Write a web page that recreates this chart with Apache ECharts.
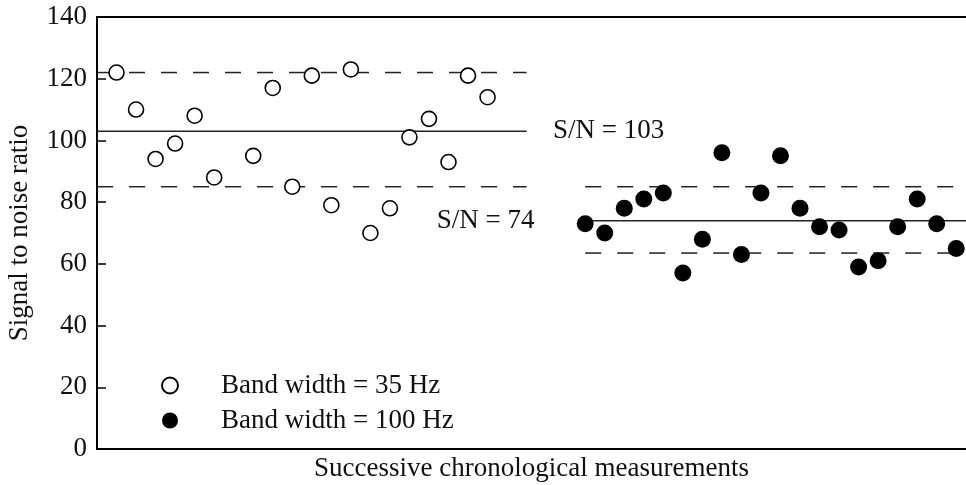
<!DOCTYPE html>
<html>
<head>
<meta charset="utf-8">
<script src="https://cdn.jsdelivr.net/npm/echarts@6/dist/echarts.min.js"></script>
<style>
  html, body { margin: 0; padding: 0; background: #fff; }
  #chart { width: 966px; height: 485px; }
</style>
</head>
<body>
<div id="chart"></div>
<script>
// Measurement order (index along the x axis)
const narrowIdx = [0, 1, 2, 3, 4, 5, 7, 8, 9, 10, 11, 12, 13, 14, 15, 16, 17, 18, 19];
const narrowSN  = [122, 110, 94, 99, 108, 88, 95, 117, 85, 121, 79, 123, 70, 78, 101, 107, 93, 121, 114];
const wideIdx   = [24, 25, 26, 27, 28, 29, 30, 31, 32, 33, 34, 35, 36, 37, 38, 39, 40, 41, 42, 43];
const wideSN    = [73, 70, 78, 81, 83, 57, 68, 96, 63, 83, 95, 78, 72, 71, 59, 61, 72, 81, 73, 65];

// Mean and limit levels for each band width
const narrowMean = 103, narrowUpper = 122, narrowLower = 85;
const wideMean = 74, wideUpper = 85, wideLower = 63.5;
const narrowSpan = [-1, 21];
const wideSpan = [24, 43.5];

// Where the S/N annotations sit along the x axis
const annotX = [25.2, 18.9];
const annotLevel = [narrowMean, wideMean];

const yTicks = [0, 20, 40, 60, 80, 100, 120, 140];
const legendNames = ['Band width = 35 Hz', 'Band width = 100 Hz'];

const FONT = 'Liberation Serif';
const FS = 27;
const pair = (xs, ys) => xs.map((x, i) => [x, ys[i]]);
const level = (span, v) => [[span[0], v], [span[1], v]];

function levelSeries(span, v, dashed) {
  return {
    type: 'line', data: level(span, v), showSymbol: false, silent: true,
    lineStyle: { color: '#222', width: 1.5, type: dashed ? [16, 16] : 'solid' },
    z: 1
  };
}

const chart = echarts.init(document.getElementById('chart'));
chart.setOption({
  animation: false,
  backgroundColor: '#fff',
  grid: { left: 97, right: 0, top: 17, bottom: 36, containLabel: false, outerBoundsMode: 'none' },
  legend: {
    orient: 'vertical', left: 156, top: 367, itemGap: 8,
    itemWidth: 16, itemHeight: 16,
    data: legendNames,
    textStyle: { fontFamily: FONT, fontSize: FS, color: '#111', padding: [0, 0, 0, 38] }
  },
  xAxis: [{
    type: 'value', min: -1, max: 43.5,
    name: 'Successive chronological measurements',
    nameLocation: 'middle', nameGap: 6,
    nameTextStyle: { fontFamily: FONT, fontSize: FS, color: '#111' },
    axisLine: { lineStyle: { color: '#000', width: 2 } },
    axisTick: { show: false }, axisLabel: { show: false }, splitLine: { show: false }
  }, {
    type: 'value', position: 'top', min: -1, max: 43.5,
    axisLine: { show: true, onZero: false, lineStyle: { color: '#000', width: 2 } },
    axisTick: { show: false }, axisLabel: { show: false }, splitLine: { show: false }
  }],
  yAxis: {
    type: 'value', min: 0, max: 140, interval: 20,
    name: 'Signal to noise ratio',
    nameLocation: 'middle', nameGap: 64,
    nameTextStyle: { fontFamily: FONT, fontSize: FS, color: '#111' },
    axisLine: { show: true, onZero: false, lineStyle: { color: '#000', width: 2 } },
    axisTick: { show: true, inside: true, length: 9, lineStyle: { color: '#000', width: 1.5 } },
    axisLabel: {
      margin: 10, fontFamily: FONT, fontSize: FS, color: '#111',
      formatter: v => (yTicks.includes(v) ? String(v) : '')
    },
    splitLine: { show: false }
  },
  series: [
    levelSeries(narrowSpan, narrowUpper, true),
    levelSeries(narrowSpan, narrowMean, false),
    levelSeries(narrowSpan, narrowLower, true),
    levelSeries(wideSpan, wideUpper, true),
    levelSeries(wideSpan, wideMean, false),
    levelSeries(wideSpan, wideLower, true),
    {
      name: legendNames[0], type: 'scatter', data: pair(narrowIdx, narrowSN),
      symbol: 'circle', symbolSize: 15, z: 3,
      itemStyle: { color: '#fff', borderColor: '#000', borderWidth: 1.6, opacity: 1 }
    },
    {
      name: legendNames[1], type: 'scatter', data: pair(wideIdx, wideSN),
      symbol: 'circle', symbolSize: 17, z: 3,
      itemStyle: { color: '#000', borderColor: '#000', borderWidth: 0, opacity: 1 }
    },
    {
      // S/N annotations placed at the level they describe
      type: 'custom', silent: true, z: 4,
      data: pair(annotX, annotLevel),
      renderItem: (params, api) => {
        const p = api.coord([api.value(0), api.value(1)]);
        return {
          type: 'text', x: p[0], y: p[1],
          style: {
            text: 'S/N = ' + api.value(1), fill: '#111',
            font: FS + 'px "' + FONT + '"', align: 'center', verticalAlign: 'middle'
          }
        };
      }
    }
  ]
});
</script>
</body>
</html>
